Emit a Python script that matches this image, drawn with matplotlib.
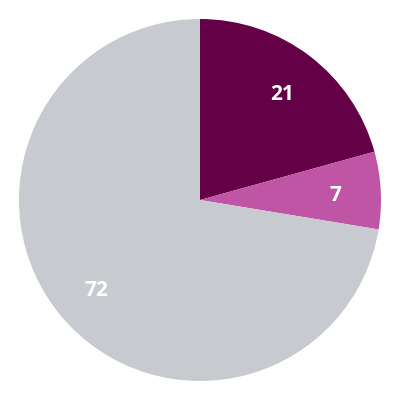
import matplotlib.pyplot as plt

labels = ['21', '7', '72']
values = [20.7, 6.9, 72.4]
colors = ['#630046', '#c055a5', '#c7cacf']

fig = plt.figure(figsize=(4, 4), dpi=100)
ax = fig.add_axes([0, 0, 1, 1])

wedges, texts = ax.pie(values, colors=colors, startangle=90, counterclock=False,
                       radius=1.0, labels=labels, labeldistance=0.75,
                       wedgeprops={'linewidth': 0})
for t in texts:
    t.set_color('white')
    t.set_fontsize(15)
    t.set_fontweight('bold')
    t.set_family('Open Sans')
    t.set_ha('center')
    t.set_va('center_baseline')

ax.set_xlim(-1.105, 1.105)
ax.set_ylim(-1.105, 1.105)
ax.set_aspect('equal')
ax.axis('off')

fig.savefig('out.png', dpi=100)
